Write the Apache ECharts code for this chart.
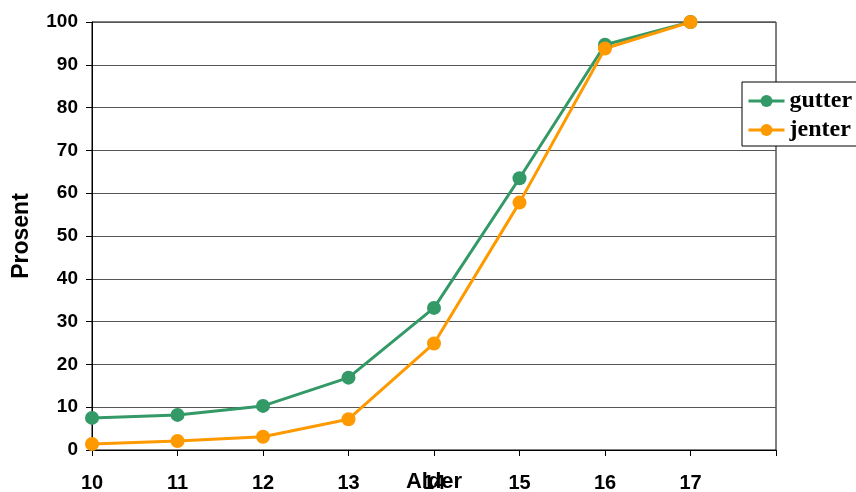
<!DOCTYPE html>
<html><head><meta charset="utf-8">
<script src="https://cdn.jsdelivr.net/npm/echarts@6/dist/echarts.min.js"></script>
<style>html,body{margin:0;padding:0;background:#fff}#c{width:856px;height:492px}</style>
</head><body><div id="c"></div>
<script>
const ages = [10, 11, 12, 13, 14, 15, 16, 17];
const gutter = [7.5, 8.2, 10.3, 16.9, 33.2, 63.5, 94.7, 100];
const jenter = [1.4, 2.1, 3.1, 7.2, 24.9, 57.8, 93.8, 100];
const xLabels = ['10','11','12','13','14','15','16','17',''];

const chart = echarts.init(document.getElementById('c'));
const font = 'Liberation Sans, Arial, sans-serif';
chart.setOption({
  animation: false,
  grid: {left: 92, right: 80, top: 22, bottom: 42, show: true, borderColor: '#000', borderWidth: 1,
    outerBoundsMode: 'none', containLabel: false},
  legend: {
    left: 742, top: 82, orient: 'vertical', itemWidth: 36, itemHeight: 15, itemGap: 5,
    padding: [7, 8, 4, 5],
    backgroundColor: '#fff', borderColor: '#000', borderWidth: 1,
    textStyle: {fontFamily: 'Liberation Serif, Times New Roman, serif', fontWeight: 'bold', fontSize: 24, color: '#000'},
    lineStyle: {width: 3},
    data: ['gutter', 'jenter']
  },
  xAxis: {
    type: 'value', min: 10, max: 18, interval: 1,
    name: 'Alder', nameLocation: 'middle', nameGap: 21, nameMoveOverlap: false,
    nameTextStyle: {fontFamily: font, fontWeight: 'bold', fontSize: 22, color: '#000', verticalAlign: 'top'},
    axisLine: {lineStyle: {color: '#000', width: 1}},
    axisTick: {show: true, length: 6, inside: false, lineStyle: {color: '#000'}},
    axisLabel: {margin: 23, fontFamily: font, fontWeight: 'bold', fontSize: 20, color: '#000',
      formatter: v => xLabels[v - 10] || ''},
    splitLine: {show: false}
  },
  yAxis: {
    type: 'value', min: 0, max: 100, interval: 10,
    name: 'Prosent', nameLocation: 'middle', nameGap: 59, nameRotate: 90, nameMoveOverlap: false,
    nameTextStyle: {fontFamily: font, fontWeight: 'bold', fontSize: 23, color: '#000'},
    axisLine: {show: true, lineStyle: {color: '#000', width: 1}},
    axisTick: {show: true, length: 6, lineStyle: {color: '#000'}},
    axisLabel: {margin: 14, fontFamily: font, fontWeight: 'bold', fontSize: 19, color: '#000'},
    splitLine: {show: true, lineStyle: {color: '#555', width: 1}}
  },
  series: [
    {name: 'gutter', type: 'line', data: ages.map((a, i) => [a, gutter[i]]),
      symbol: 'circle', symbolSize: 14, color: '#339966',
      lineStyle: {width: 3, color: '#339966'}, itemStyle: {color: '#339966'}},
    {name: 'jenter', type: 'line', data: ages.map((a, i) => [a, jenter[i]]),
      symbol: 'circle', symbolSize: 14, color: '#FF9900',
      lineStyle: {width: 3, color: '#FF9900'}, itemStyle: {color: '#FF9900'}}
  ]
});
</script></body></html>
